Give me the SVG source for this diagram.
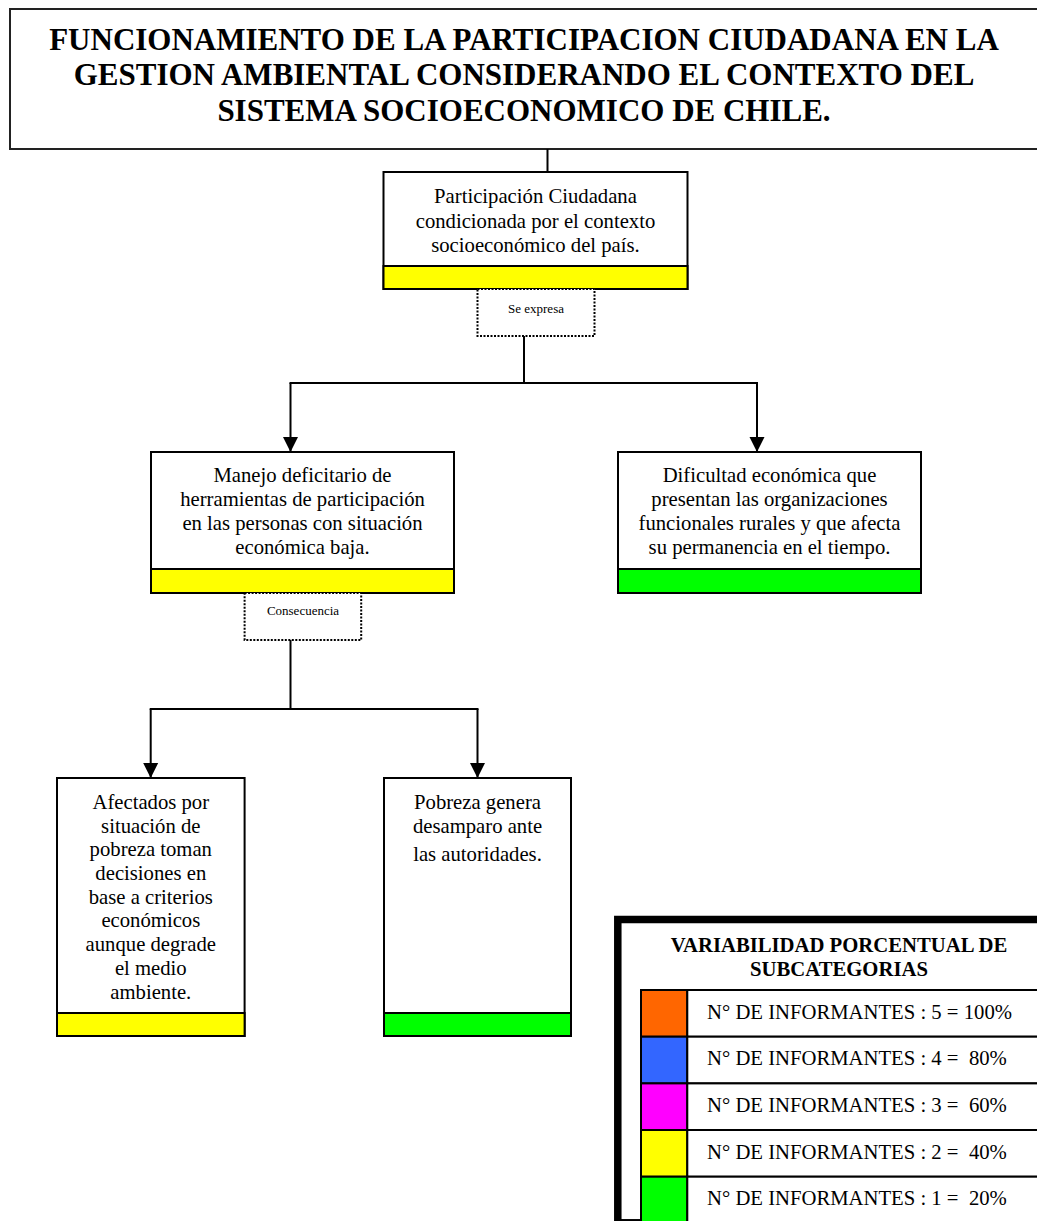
<svg xmlns="http://www.w3.org/2000/svg" width="1037" height="1221" viewBox="0 0 1037 1221">
<style>
  text { font-family: "Liberation Serif", "Times New Roman", serif; fill: #000; }
  .title { font-size: 31px; font-weight: bold; text-anchor: middle; }
  .node { font-size: 20.7px; text-anchor: middle; }
  .small { font-size: 13px; text-anchor: middle; }
  .box { fill: #fff; stroke: #000; stroke-width: 2; }
  .yel { fill: #ffff00; stroke: #000; stroke-width: 2; }
  .grn { fill: #00ff00; stroke: #000; stroke-width: 2; }
  .dot { fill: #fff; stroke: #000; stroke-width: 2; stroke-dasharray: 2 1.5; }
  .conn { fill: none; stroke: #000; stroke-width: 2; }
  .leg { font-size: 20.7px; white-space: pre; }
  .legt { font-size: 20.7px; font-weight: bold; text-anchor: middle; }
  .cell { fill: #fff; stroke: #000; stroke-width: 2; }
</style>
<defs>
  <marker id="arr" markerUnits="userSpaceOnUse" markerWidth="16" markerHeight="16" viewBox="0 0 16 16" refX="15" refY="8" orient="auto">
    <path d="M0,0.5 L15,8 L0,15.5 Z" fill="#000"/>
  </marker>
</defs>
<rect width="1037" height="1221" fill="#fff"/>

<g id="title">
  <rect x="10" y="9" width="1040" height="140" fill="#fff" stroke="#222" stroke-width="2"/>
  <text class="title" x="524" y="50">FUNCIONAMIENTO DE LA PARTICIPACION CIUDADANA EN LA</text>
  <text class="title" x="524" y="85">GESTION AMBIENTAL CONSIDERANDO EL CONTEXTO DEL</text>
  <text class="title" x="524" y="121">SISTEMA SOCIOECONOMICO DE CHILE.</text>
</g>

<g id="connectors">
  <line class="conn" x1="547.5" y1="149" x2="547.5" y2="172"/>
  <line class="conn" x1="524" y1="336" x2="524" y2="383"/>
  <line class="conn" x1="289.5" y1="383" x2="758" y2="383"/>
  <line class="conn" x1="290.5" y1="383" x2="290.5" y2="452" marker-end="url(#arr)"/>
  <line class="conn" x1="757" y1="383" x2="757" y2="452" marker-end="url(#arr)"/>
  <line class="conn" x1="290.5" y1="640" x2="290.5" y2="709"/>
  <line class="conn" x1="149.7" y1="709" x2="478.5" y2="709"/>
  <line class="conn" x1="150.7" y1="709" x2="150.7" y2="778" marker-end="url(#arr)"/>
  <line class="conn" x1="477.5" y1="709" x2="477.5" y2="778" marker-end="url(#arr)"/>
</g>

<g id="n1">
  <rect class="box" x="383.5" y="172" width="304" height="117"/>
  <rect class="yel" x="383.5" y="266" width="304" height="23"/>
  <text class="node" x="535.5" y="203">Participación Ciudadana</text>
  <text class="node" x="535.5" y="228">condicionada por el contexto</text>
  <text class="node" x="535.5" y="252">socioeconómico del país.</text>
</g>

<g id="l1">
  <rect class="dot" x="477.5" y="289" width="117" height="47"/>
  <text class="small" x="536" y="313">Se expresa</text>
</g>

<g id="n2">
  <rect class="box" x="151" y="452" width="303" height="141"/>
  <rect class="yel" x="151" y="569" width="303" height="24"/>
  <text class="node" x="302.5" y="482">Manejo deficitario de</text>
  <text class="node" x="302.5" y="506">herramientas de participación</text>
  <text class="node" x="302.5" y="530">en las personas con situación</text>
  <text class="node" x="302.5" y="554">económica baja.</text>
</g>

<g id="n3">
  <rect class="box" x="618" y="452" width="303" height="141"/>
  <rect class="grn" x="618" y="569" width="303" height="24"/>
  <text class="node" x="769.5" y="482">Dificultad económica que</text>
  <text class="node" x="769.5" y="506">presentan las organizaciones</text>
  <text class="node" x="769.5" y="530">funcionales rurales y que afecta</text>
  <text class="node" x="769.5" y="554">su permanencia en el tiempo.</text>
</g>

<g id="l2">
  <rect class="dot" x="244.6" y="593" width="116.6" height="47"/>
  <text class="small" x="303" y="615">Consecuencia</text>
</g>

<g id="n4">
  <rect class="box" x="57" y="778" width="187.6" height="258"/>
  <rect class="yel" x="57" y="1013" width="187.6" height="23"/>
  <text class="node" x="150.8" y="809">Afectados por</text>
  <text class="node" x="150.8" y="833">situación de</text>
  <text class="node" x="150.8" y="856">pobreza toman</text>
  <text class="node" x="150.8" y="880">decisiones en</text>
  <text class="node" x="150.8" y="904">base a criterios</text>
  <text class="node" x="150.8" y="927">económicos</text>
  <text class="node" x="150.8" y="951">aunque degrade</text>
  <text class="node" x="150.8" y="975">el medio</text>
  <text class="node" x="150.8" y="999">ambiente.</text>
</g>

<g id="n5">
  <rect class="box" x="384" y="778" width="187" height="258"/>
  <rect class="grn" x="384" y="1013" width="187" height="23"/>
  <text class="node" x="477.5" y="809">Pobreza genera</text>
  <text class="node" x="477.5" y="833">desamparo ante</text>
  <text class="node" x="477.5" y="861">las autoridades.</text>
</g>

<g id="legend">
  <rect x="617.8" y="919.5" width="500" height="303.3" fill="#fff" stroke="#000" stroke-width="7.5"/>
  <text class="legt" x="839" y="952">VARIABILIDAD PORCENTUAL DE</text>
  <text class="legt" x="839" y="976">SUBCATEGORIAS</text>
  <rect class="cell" x="641" y="990" width="46.3" height="46.7" style="fill:#ff6600"/>
  <rect class="cell" x="687.3" y="990" width="400" height="46.7"/>
  <rect class="cell" x="641" y="1036.7" width="46.3" height="46.7" style="fill:#3366ff"/>
  <rect class="cell" x="687.3" y="1036.7" width="400" height="46.7"/>
  <rect class="cell" x="641" y="1083.4" width="46.3" height="46.6" style="fill:#ff00ff"/>
  <rect class="cell" x="687.3" y="1083.4" width="400" height="46.6"/>
  <rect class="cell" x="641" y="1130" width="46.3" height="46.7" style="fill:#ffff00"/>
  <rect class="cell" x="687.3" y="1130" width="400" height="46.7"/>
  <rect class="cell" x="641" y="1176.7" width="46.3" height="60" style="fill:#00ff00"/>
  <rect class="cell" x="687.3" y="1176.7" width="400" height="60"/>
  <text class="leg" x="707" y="1018.5" xml:space="preserve">N° DE INFORMANTES : 5 = 100%</text>
  <text class="leg" x="707" y="1065.2" xml:space="preserve">N° DE INFORMANTES : 4 =  80%</text>
  <text class="leg" x="707" y="1111.9" xml:space="preserve">N° DE INFORMANTES : 3 =  60%</text>
  <text class="leg" x="707" y="1158.6" xml:space="preserve">N° DE INFORMANTES : 2 =  40%</text>
  <text class="leg" x="707" y="1205.3" xml:space="preserve">N° DE INFORMANTES : 1 =  20%</text>
</g>
</svg>
